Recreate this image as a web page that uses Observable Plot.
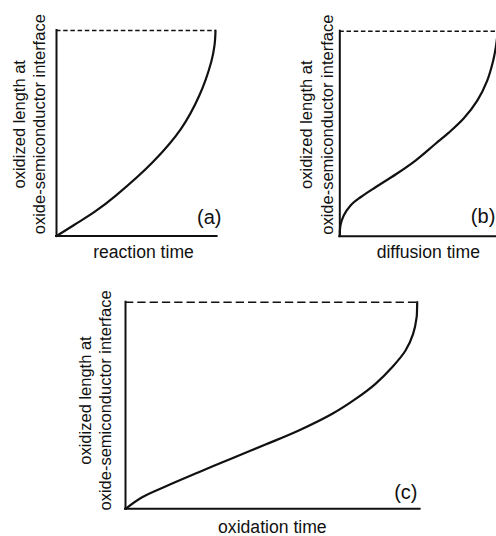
<!DOCTYPE html>
<html><head><meta charset="utf-8">
<script src="https://cdn.jsdelivr.net/npm/d3@7"></script>
<script src="https://cdn.jsdelivr.net/npm/@observablehq/plot@0.6"></script>
<style>
html,body{margin:0;padding:0;background:#fff;overflow:hidden;}
#wrap{position:relative;width:496px;height:536px;overflow:hidden;background:#fff;}
</style></head><body><div id="wrap"></div>
<script>
// ---- data (normalized: time 0..1, oxidized length 0..1) ----
const panelIds = ["(a)", "(b)", "(c)"];
const xLabels = ["reaction time", "diffusion time", "oxidation time"];
const yLabel = "oxidized length at\noxide-semiconductor interface";

const aTime   = [0, 0.113, 0.239, 0.375, 0.606, 0.784, 0.899, 0.973, 0.994, 1];
const aLength = [0, 0.055, 0.117, 0.198, 0.360, 0.523, 0.685, 0.847, 0.929, 1];

const bTime   = [0, 0.004, 0.025, 0.068, 0.131, 0.226, 0.353, 0.479, 0.606, 0.690, 0.785, 0.870, 0.933, 0.971, 0.988, 1];
const bLength = [0, 0.052, 0.101, 0.150, 0.190, 0.239, 0.301, 0.369, 0.451, 0.505, 0.575, 0.661, 0.759, 0.857, 0.925, 1];

const cTime   = [0, 0.057, 0.137, 0.251, 0.366, 0.480, 0.594, 0.709, 0.789, 0.857, 0.914, 0.960, 0.986, 0.998, 0.9995, 1];
const cLength = [0, 0.056, 0.108, 0.177, 0.245, 0.311, 0.379, 0.460, 0.532, 0.605, 0.685, 0.766, 0.847, 0.927, 0.968, 1];

const INK = "#111";
const FONT = "'Liberation Sans', Arial, Helvetica, sans-serif";

function panel(o) {
  const pts = o.time.map((t, i) => ({t, v: o.length[i]}));
  const svg = Plot.plot({
    width: o.w, height: o.h,
    marginLeft: o.ml, marginRight: o.mr, marginTop: o.mt, marginBottom: o.mb,
    x: {domain: [0, 1], axis: null},
    y: {domain: [0, 1], axis: null},
    style: {fontFamily: FONT, color: INK, background: "transparent", overflow: "visible"},
    marks: [
      Plot.ruleY([1], {x1: 0, x2: 1, stroke: INK, strokeWidth: 1.5, strokeDasharray: o.dash}),
      Plot.ruleX([0], {y1: 0, y2: 1, stroke: INK, strokeWidth: 2, strokeLinecap: "square"}),
      Plot.ruleY([0], {x1: 0, x2: 1.01, stroke: INK, strokeWidth: 2, strokeLinecap: "square"}),
      Plot.line(pts, {x: "t", y: "v", curve: "catmull-rom", stroke: INK, strokeWidth: 2.2}),
      Plot.text([yLabel], {text: d => d, frameAnchor: "left", rotate: -90, dx: o.ydx, dy: o.ydy,
        fontSize: 16.5, lineHeight: 1.25, textAnchor: "middle", lineAnchor: "middle", fill: INK}),
      Plot.text([o.xl], {text: d => d, frameAnchor: "bottom", dx: o.xdx, dy: o.xdy,
        fontSize: 17.6, textAnchor: "middle", lineAnchor: "top", fill: INK}),
      Plot.text([o.id], {text: d => d, frameAnchor: "bottom-right", dx: o.idx, dy: o.idy,
        fontSize: 20, textAnchor: "end", lineAnchor: "bottom", fill: INK})
    ]
  });
  svg.style.position = "absolute";
  svg.style.left = o.left + "px";
  svg.style.top = o.top + "px";
  document.getElementById("wrap").appendChild(svg);
}

panel({time: aTime, length: aLength, id: panelIds[0], xl: xLabels[0],
  left: 0, top: 0, w: 240, h: 268, ml: 56, mr: 25, mt: 30, mb: 32.5, dash: "4.5,2.7",
  ydx: -28, ydy: -9, xdx: 7.5, xdy: 9, idx: 6, idy: -12});

panel({time: bTime, length: bLength, id: panelIds[1], xl: xLabels[1],
  left: 248, top: 0, w: 270, h: 268, ml: 91.3, mr: 20.7, mt: 30.7, mb: 32.3, dash: "4.5,2.7",
  ydx: -24, ydy: -9, xdx: 9.5, xdy: 9, idx: -2.5, idy: -13});

panel({time: cTime, length: cLength, id: panelIds[2], xl: xLabels[2],
  left: 0, top: 270, w: 496, h: 266, ml: 125, mr: 79.3, mt: 31.7, mb: 27.7, dash: "8.3,4",
  ydx: -31, ydy: -5, xdx: 1, xdy: 11.2, idx: 0.3, idy: -10});
</script>
</body></html>
